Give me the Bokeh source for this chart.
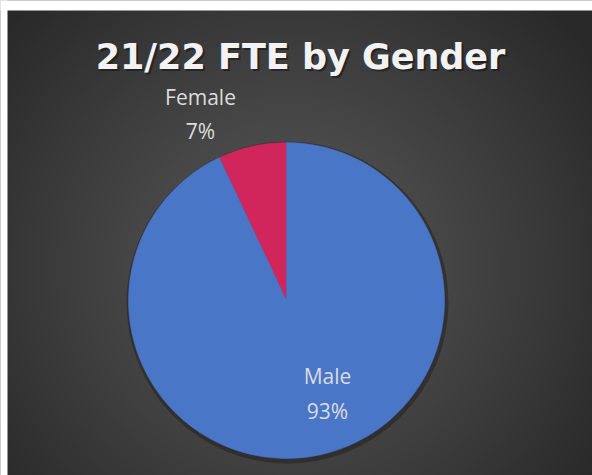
import numpy as np
from bokeh.plotting import figure
from bokeh.models import Range1d, ColumnDataSource
from bokeh.core.properties import value
from bokeh.embed import file_html
from bokeh.resources import INLINE

# ---- data ----
categories = ["Female", "Male"]
shares = [7, 93]
colors = ["#d1265c", "#4a76c8"]
title_text = "21/22 FTE by Gender"

W, H = 592, 475
p = figure(width=W, height=H, output_backend="svg", toolbar_location=None,
           x_range=Range1d(0, W), y_range=Range1d(0, H), min_border=0)
p.axis.visible = False
p.grid.visible = False
p.outline_line_color = None
p.background_fill_color = "#2c2c2c"
p.border_fill_color = "#2c2c2c"

# background radial gradient (decoration), panel from x=7, top 10px white
x0, top = 7, 10
PW, PH = W - x0, H - top
yy, xx = np.mgrid[0:PH, 0:PW]
cx, cy = 286 - x0, 210
d = np.sqrt((xx - cx) ** 2 + (yy - cy) ** 2) / 370.0
d = np.clip(d, 0, 1) ** 1.1
g = (0x58 * (1 - d) + 0x29 * d).astype(np.uint32)
img = (255 << 24) | (g << 16) | (g << 8) | g
p.image_rgba(image=[img.astype(np.uint32)], x=x0, y=-2, dw=PW + 4, dh=PH + 2)
# white page margins (left and top)
p.quad(left=[-2, -2], right=[x0, W + 2], bottom=[-2, H - top], top=[H + 2, H + 2],
       fill_color="white", line_color=None)

# pie
cxp, cyp, r = 286, 175, 158
total = sum(shares)
starts, ends = [], []
a = np.pi / 2
for v in shares:
    starts.append(a)
    a += v / total * 2 * np.pi
    ends.append(a)
src = ColumnDataSource(dict(cat=categories, val=shares, start=starts, end=ends, color=colors))
# soft shadow
p.circle(x=[cxp + 1], y=[cyp - 2], radius=r + 3, fill_color="#1a1a1a", fill_alpha=0.45, line_color=None)
p.wedge(x=cxp, y=cyp, radius=r, start_angle="start", end_angle="end",
        fill_color="color", line_color="color", line_width=0.5, source=src)

# labels
lab_x = [200, 327]
name_y = [379, 100]
pct_y = [345, 65]
pct = [f"{v}%" for v in shares]
p.text(x=lab_x, y=name_y, text=categories, text_color="#dcdcdc",
       text_font=value("Open Sans"), text_font_size="21px",
       text_align="center", text_baseline="alphabetic")
p.text(x=lab_x, y=pct_y, text=pct, text_color="#dcdcdc",
       text_font=value("Open Sans"), text_font_size="21px",
       text_align="center", text_baseline="alphabetic")

# title with shadow
p.text(x=[302], y=[417], text=[title_text], text_color="#111111", text_alpha=0.55,
       text_font=value("DejaVu Sans"), text_font_style="bold", text_font_size="35px",
       text_align="center", text_baseline="alphabetic")
p.text(x=[300], y=[419], text=[title_text], text_color="#f2f2f2",
       text_font=value("DejaVu Sans"), text_font_style="bold", text_font_size="35px",
       text_align="center", text_baseline="alphabetic")

open("out.html", "w").write(file_html(p, INLINE))
